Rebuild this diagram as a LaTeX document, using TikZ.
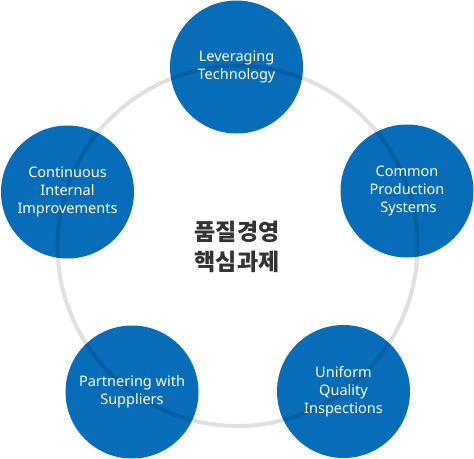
\documentclass[tikz,border=0pt]{standalone}
\usepackage{fontspec}
\setmainfont{Noto Sans}
\newfontfamily\krfont{Noto Sans CJK KR}
\definecolor{circblue}{HTML}{076DB8}
\definecolor{txtdark}{HTML}{333333}
\tikzset{
  bubble/.style={circle, fill=circblue, minimum size=133pt, inner sep=0pt},
  bubtext/.style={text=white, align=center, font=\fontsize{14.5pt}{18pt}\selectfont},
}
\begin{document}
\begin{tikzpicture}[x=1pt,y=-1pt]
\useasboundingbox (0,0) rectangle (474,458);
\node[bubble] (top) at (236.5,67) {};
\node[bubble] (right) at (407,191) {};
\node[bubble] (left) at (67.5,192) {};
\node[bubble] (bl) at (132,392) {};
\node[bubble] (br) at (343.5,391.5) {};
\node[circle, minimum size=360pt, inner sep=0pt, draw=black, draw opacity=0.12, line width=4pt] (ring) at (237.5,246) {};
\node[bubtext] (ttop) at (top) {Leveraging\\Technology};
\node[bubtext] (tright) at (right) {Common\\Production\\\hspace*{3pt}Systems};
\node[bubtext] (tleft) at (left) {Continuous\\Internal\\Improvements};
\node[bubtext] (tbl) at (bl) {Partnering with\\Suppliers};
\node[bubtext] (tbr) at (br) {Uniform\\Quality\\Inspections};
\node[text=txtdark, align=center, font=\krfont\bfseries\fontsize{23pt}{30pt}\selectfont] (center) at (237,247) {품질경영\\핵심과제};
\end{tikzpicture}
\end{document}
